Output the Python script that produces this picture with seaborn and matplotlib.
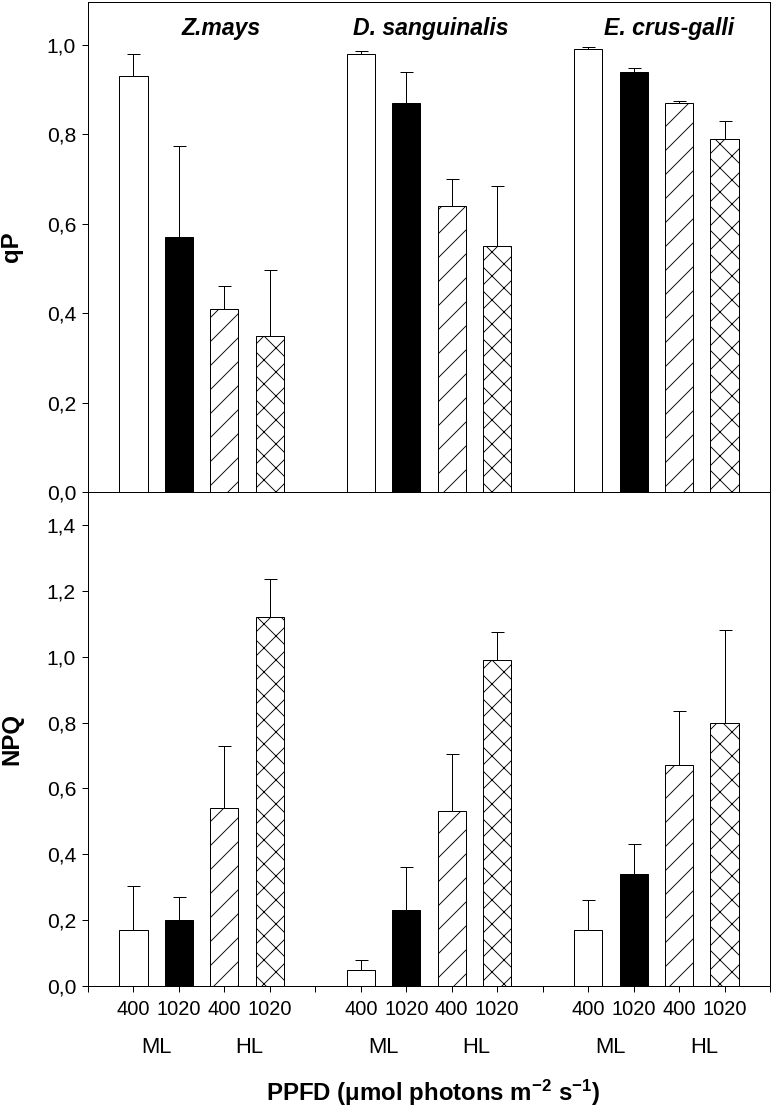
import numpy as np
import pandas as pd
import matplotlib
matplotlib.use("Agg")
import matplotlib.pyplot as plt
import matplotlib.transforms as mtransforms
from matplotlib.ticker import FuncFormatter
import seaborn as sns

# values
species = ["Z.mays", "D. sanguinalis", "E. crus-galli"]
treatments = ["ML 400", "ML 1020", "HL 400", "HL 1020"]
ppfd_labels = ["400", "1020", "400", "1020"]
light_labels = ["ML", "HL"]

qp_mean = [0.93, 0.57, 0.41, 0.35,
           0.98, 0.87, 0.64, 0.55,
           0.99, 0.94, 0.87, 0.79]
qp_top = [0.98, 0.775, 0.46, 0.497,
          0.987, 0.94, 0.70, 0.685,
          0.995, 0.948, 0.875, 0.83]
npq_mean = [0.17, 0.20, 0.54, 1.12,
            0.05, 0.23, 0.53, 0.99,
            0.17, 0.34, 0.67, 0.80]
npq_top = [0.305, 0.27, 0.73, 1.235,
           0.08, 0.36, 0.705, 1.075,
           0.26, 0.43, 0.835, 1.08]

# table for seaborn: 4 bars per species, one empty slot between species
rows = []
for g, sp in enumerate(species):
    for i, tr in enumerate(treatments):
        k = g * 4 + i
        rows.append({"pos": g * 5 + i, "species": sp, "treatment": tr,
                     "qP": qp_mean[k], "qP_top": qp_top[k],
                     "NPQ": npq_mean[k], "NPQ_top": npq_top[k]})
df = pd.DataFrame(rows)

palette = {"ML 400": "white", "ML 1020": "black", "HL 400": "white", "HL 1020": "white"}
hatches = {"ML 400": "", "ML 1020": "", "HL 400": "/", "HL 1020": "x"}

sns.set_theme(style="ticks")
plt.rcParams['font.family'] = ['Liberation Sans', 'DejaVu Sans']
plt.rcParams['mathtext.fontset'] = 'custom'
plt.rcParams['mathtext.rm'] = 'Liberation Sans'
plt.rcParams['mathtext.bf'] = 'Liberation Sans:bold'
plt.rcParams['mathtext.default'] = 'bf'
plt.rcParams['hatch.linewidth'] = 0.9
plt.rcParams['hatch.color'] = 'black'

W, H = 773, 1108
fig = plt.figure(figsize=(W / 72, H / 72), dpi=72)
ax1 = fig.add_axes([88 / W, 1 - 492 / H, 682 / W, 490 / H])
ax2 = fig.add_axes([88 / W, 1 - 986 / H, 682 / W, 494 / H])

comma = FuncFormatter(lambda v, p: f"{v:.1f}".replace(".", ","))


def draw(ax, col, top):
    sns.barplot(data=df, x="pos", y=col, hue="treatment", hue_order=treatments,
                palette=palette, native_scale=True, dodge=False, width=0.62,
                edgecolor="black", linewidth=1, errorbar=None, legend=False, ax=ax)
    for cont, tr in zip(ax.containers, treatments):
        for bar in cont:
            bar.set_hatch(hatches[tr])
    ax.errorbar(df["pos"], df[col], yerr=[np.zeros(len(df)), df[top] - df[col]],
                fmt="none", ecolor="black", elinewidth=1, capsize=6.5, capthick=1,
                zorder=3)
    ax.set_xlim(-1, 14)
    ax.set_xlabel("")
    ax.yaxis.set_major_formatter(comma)
    ax.tick_params(axis="y", direction="out", length=6, width=1, color="black",
                   labelsize=21, pad=6, labelcolor="black")
    for s in ax.spines.values():
        s.set_visible(True)
        s.set_color("black")
        s.set_linewidth(1)
    ax.set_facecolor("white")


draw(ax1, "qP", "qP_top")
draw(ax2, "NPQ", "NPQ_top")

# top panel
ax1.set_ylim(0, 1.096)
ax1.set_yticks([0, 0.2, 0.4, 0.6, 0.8, 1.0])
ax1.tick_params(axis="x", bottom=False, labelbottom=False)
ax1.set_ylabel("qP", fontsize=24, fontweight="bold", color="black")
ax1.yaxis.set_label_coords(-0.095, 0.5)
for x, sp in zip([1.93, 6.53, 11.78], species):
    ax1.text(x, 1.036, sp, ha="center", va="center", fontsize=23,
             fontweight="bold", fontstyle="italic", color="black")

# bottom panel
ax2.set_ylim(0, 1.5)
ax2.set_yticks([0, 0.2, 0.4, 0.6, 0.8, 1.0, 1.2, 1.4])
ticks = list(range(-1, 15))
labels = []
for t in ticks:
    if t >= 0 and t % 5 < 4:
        labels.append(ppfd_labels[t % 5])
    else:
        labels.append("")
ax2.set_xticks(ticks)
ax2.set_xticklabels(labels)
ax2.tick_params(axis="x", direction="out", length=6, width=1, color="black",
                labelsize=20, pad=8, labelcolor="black")
ax2.set_ylabel("NPQ", fontsize=24, fontweight="bold", color="black")
ax2.yaxis.set_label_coords(-0.095, 0.5)

trans = mtransforms.blended_transform_factory(ax2.transData, ax2.transAxes)
for g in range(len(species)):
    ax2.text(g * 5 + 0.5, -0.1235, light_labels[0], transform=trans,
             ha="center", va="center", fontsize=22, color="black")
    ax2.text(g * 5 + 2.55, -0.1235, light_labels[1], transform=trans,
             ha="center", va="center", fontsize=22, color="black")

fig.text(433 / W, 1 - 1093 / H, "PPFD (μmol photons m$^{-2}$ s$^{-1}$)",
         ha="center", va="center", fontsize=24, fontweight="bold", color="black")

fig.savefig("out.png", dpi=72, facecolor="white")
